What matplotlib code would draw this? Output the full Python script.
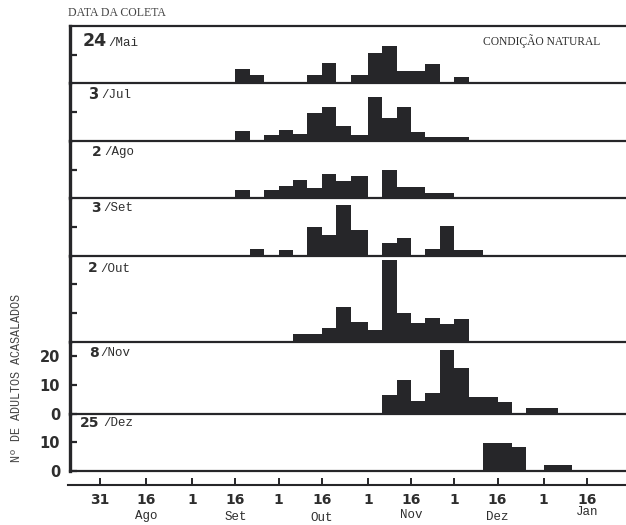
import matplotlib
matplotlib.use("Agg")
import matplotlib.pyplot as plt
import matplotlib.dates as mdates
import matplotlib.transforms as mtransforms
from datetime import datetime

# ---------------------------------------------------------------- data
# 5-day classes (days 1, 6, 11, 16, 21, 26 of each month); edges of the classes
bin_edges = [
    "1985-09-16", "1985-09-21", "1985-09-26",
    "1985-10-01", "1985-10-06", "1985-10-11", "1985-10-16", "1985-10-21", "1985-10-26",
    "1985-11-01", "1985-11-06", "1985-11-11", "1985-11-16", "1985-11-21", "1985-11-26",
    "1985-12-01", "1985-12-06", "1985-12-11", "1985-12-16", "1985-12-21", "1985-12-26",
    "1986-01-01", "1986-01-06", "1986-01-11",
]

# collection dates (day, month)
collection_day = ["24", "3", "2", "3", "2", "8", "25"]
collection_month = ["Mai", "Jul", "Ago", "Set", "Out", "Nov", "Dez"]

# number of mated adults per 5-day class, one row per collection
counts_24mai = [5, 3, 0, 0, 0, 3, 7, 0, 3, 10.5, 13, 4.3, 4.3, 6.7, 0, 2.2, 0, 0, 0, 0, 0, 0, 0]
counts_03jul = [3.6, 0, 2.1, 3.9, 2.3, 9.6, 11.7, 5.3, 1.9, 15.3, 7.9, 11.7, 3, 1.2, 1.2, 1.5, 0, 0, 0, 0, 0, 0, 0]
counts_02ago = [3, 0, 2.9, 4.1, 6.4, 3.4, 8.6, 6, 7.8, 0, 9.8, 3.8, 3.8, 1.8, 1.8, 0, 0, 0, 0, 0, 0, 0, 0]
counts_03set = [0, 2.2, 0, 2.1, 0, 9.9, 7.3, 17.6, 9, 0, 4.4, 6.1, 0, 2.2, 10.2, 2.1, 2.1, 0, 0, 0, 0, 0, 0]
counts_02out = [0, 0, 0, 0, 2.6, 2.6, 4.7, 12, 7, 4.1, 28.5, 9.9, 6.7, 8.4, 6.2, 7.8, 0, 0, 0, 0, 0, 0, 0]
counts_08nov = [0, 0, 0, 0, 0, 0, 0, 0, 0, 0, 6.3, 11.8, 4.3, 7.3, 22, 16, 5.7, 5.7, 4.2, 0, 2.1, 2.1, 0]
counts_25dez = [0, 0, 0, 0, 0, 0, 0, 0, 0, 0, 0, 0, 0, 0, 0, 0, 0, 9.9, 9.9, 8.3, 0, 2.1, 2.1]

panel_counts = [counts_24mai, counts_03jul, counts_02ago, counts_03set,
                counts_02out, counts_08nov, counts_25dez]
panel_ymax = [20, 20, 20, 20, 30, 25, 20]

# time axis
tick_dates = ["1985-07-31", "1985-08-16", "1985-09-01", "1985-09-16", "1985-10-01",
              "1985-10-16", "1985-11-01", "1985-11-16", "1985-12-01", "1985-12-16",
              "1986-01-01", "1986-01-16"]
tick_labels = ["31", "16", "1", "16", "1", "16", "1", "16", "1", "16", "1", "16"]
month_names = ["Ago", "Set", "Out", "Nov", "Dez", "Jan"]
month_dates = ["1985-08-16", "1985-09-16", "1985-10-16", "1985-11-16", "1985-12-16", "1986-01-16"]

# ---------------------------------------------------------------- style
INK = "#262629"
TEXT = "#2e2e2e"
MONO = "Liberation Mono"
SERIF = "Liberation Serif"
BOLD = "DejaVu Sans"

W, H = 626, 525
fig = plt.figure(figsize=(W / 100, H / 100), dpi=100)
fig.patch.set_facecolor("white")


def num(s):
    return mdates.date2num(datetime.strptime(s, "%Y-%m-%d"))


edges = [num(s) for s in bin_edges]
lefts = edges[:-1]
widths = [b - a for a, b in zip(edges[:-1], edges[1:])]

ref = num("1985-07-31")
xlim = (ref - 10.4, ref + 182.6)

left_px, top_px, bottom_px = 70, 26, 471
ax_left = left_px / W
ax_width = 1.0 - ax_left
unit_px = (bottom_px - top_px) / sum(panel_ymax)

axes = []
y = top_px
for i, (counts, ymax) in enumerate(zip(panel_counts, panel_ymax)):
    h = ymax * unit_px
    ax = fig.add_axes([ax_left, 1 - (y + h) / H, ax_width, h / H])
    y += h
    ax.bar(lefts, counts, width=widths, align="edge", color=INK, linewidth=0)
    ax.set_xlim(*xlim)
    ax.set_ylim(0, ymax)
    ax.set_facecolor("none")
    ax.spines["right"].set_visible(False)
    ax.spines["top"].set_visible(i == 0)
    ax.spines["top"].set_linewidth(1.6)
    ax.spines["left"].set_linewidth(2.4)
    ax.spines["bottom"].set_linewidth(1.6)
    for s in ax.spines.values():
        s.set_color(INK)
    ax.set_xticks([])
    if i < 4:
        ax.set_yticks([10])
        ax.set_yticklabels([])
    elif i == 4:
        ax.set_yticks([10, 20])
        ax.set_yticklabels([])
    elif i == 5:
        ax.set_yticks([0, 10, 20])
        ax.set_yticklabels(["0", "10", "20"])
    else:
        ax.set_yticks([0, 10])
        ax.set_yticklabels(["0", "10"])
    ax.tick_params(axis="y", direction="in", length=5, width=1.6, color=INK,
                   pad=7, labelsize=10.5, labelcolor=TEXT)
    for lab in ax.get_yticklabels():
        lab.set_fontfamily(BOLD)
        lab.set_fontweight("bold")
    axes.append(ax)

# collection date labels inside each panel
day_x = [83, 88, 92, 91, 88, 89, 80]
month_x = [108, 101, 104, 103, 100, 100, 103]
base_y = [46, 99, 156, 212, 272, 357, 427]
day_size = [12.5, 10.5, 10, 10, 10, 10, 10]
for d, m, xd, xm, yb, fs in zip(collection_day, collection_month, day_x, month_x, base_y, day_size):
    fig.text(xd / W, 1 - yb / H, d, family=BOLD, weight="bold", size=fs,
             color=TEXT, ha="left", va="baseline")
    fig.text(xm / W, 1 - (yb - 0.5) / H, "/" + m, family=MONO, size=9,
             color=TEXT, ha="left", va="baseline")

fig.text(483 / W, 1 - 41 / H, "CONDIÇÃO NATURAL", family=SERIF, size=8.3,
         color=TEXT, ha="left", va="center")
fig.text(68 / W, 1 - 13 / H, "DATA DA COLETA", family=SERIF, size=8.5,
         color="#444444", ha="left", va="center")
fig.text(17 / W, 1 - 378 / H, "Nº DE ADULTOS ACASALADOS", family=MONO, size=8.5,
         color="#444444", ha="center", va="center", rotation=90)

# separate time axis below the panels
axis_px = 485
ax_t = fig.add_axes([68 / W, 1 - axis_px / H, 1 - 68 / W, 0.0001])
ax_t.set_xlim(ref - 11.1, xlim[1])
ax_t.set_yticks([])
for side in ("left", "right", "top"):
    ax_t.spines[side].set_visible(False)
ax_t.spines["bottom"].set_linewidth(1.5)
ax_t.spines["bottom"].set_color(INK)
ax_t.set_facecolor("none")
ax_t.set_xticks([num(s) for s in tick_dates])
ax_t.set_xticklabels(tick_labels)
ax_t.tick_params(axis="x", direction="in", length=5, width=1.4, color=INK,
                 pad=6, labelsize=10, labelcolor=TEXT)
for lab in ax_t.get_xticklabels():
    lab.set_fontfamily(BOLD)
    lab.set_fontweight("bold")

blend = mtransforms.blended_transform_factory(ax_t.transData, fig.transFigure)
month_y = [516, 517, 518, 515, 517, 512]
for name, d, yy in zip(month_names, month_dates, month_y):
    ax_t.text(num(d), 1 - yy / H, name, family=MONO, size=9, color=TEXT,
              ha="center", va="center", transform=blend)

fig.savefig("out.png", dpi=100, facecolor="white")
